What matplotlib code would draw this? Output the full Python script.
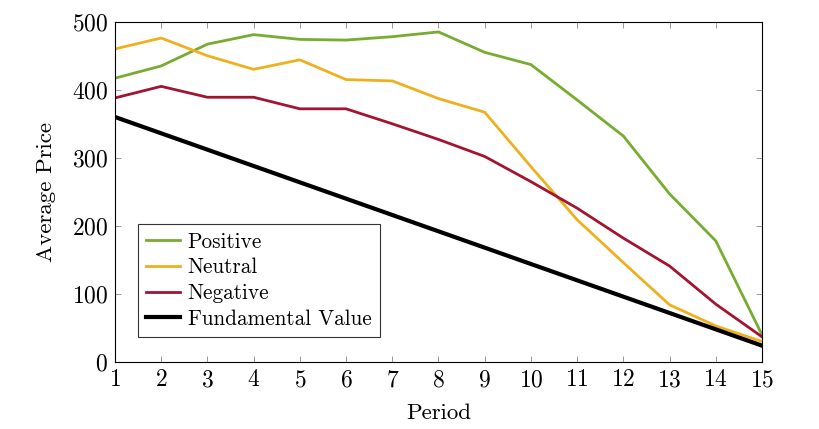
import matplotlib
matplotlib.use("Agg")
import matplotlib.pyplot as plt

periods = list(range(1, 16))
positive = [417, 435, 467, 481, 474, 473, 478, 485, 455, 437, 385, 332, 247, 178, 40]
neutral = [460, 476, 450, 430, 444, 415, 413, 387, 367, 287, 209, 146, 84, 53, 30]
negative = [388, 405, 389, 389, 372, 372, 350, 327, 302, 265, 226, 182, 141, 85, 37]
fundamental = [360, 336, 312, 288, 264, 240, 216, 192, 168, 144, 120, 96, 72, 48, 24]

plt.rcParams['font.family'] = ['cmr10', 'DejaVu Serif']
plt.rcParams['axes.formatter.use_mathtext'] = True

fig = plt.figure(figsize=(8.19, 4.29), dpi=100)
ax = fig.add_axes([0.1404, 0.1562, 0.79, 0.7932])

ax.plot(periods, positive, color='#77AC30', lw=2.0, label='Positive')
ax.plot(periods, neutral, color='#EDB120', lw=2.0, label='Neutral')
ax.plot(periods, negative, color='#A2142F', lw=2.0, label='Negative')
ax.plot(periods, fundamental, color='black', lw=3.0, label='Fundamental Value')

ax.set_xlim(1, 15)
ax.set_ylim(0, 500)
ax.set_xticks(periods)
ax.set_yticks([0, 100, 200, 300, 400, 500])
ax.tick_params(direction='in', top=True, right=True, length=4.5, width=0.6,
               color='#888888', labelsize=17, pad=5)
for s in ax.spines.values():
    s.set_linewidth(0.8)
ax.set_xlabel('Period', fontsize=16.5, labelpad=9)
ax.set_ylabel('Average Price', fontsize=16.5, labelpad=11)

leg = ax.legend(loc='lower left', bbox_to_anchor=(0.035, 0.073), fontsize=15.3,
                frameon=True, fancybox=False, edgecolor='black', handlelength=1.6,
                borderpad=0.4, labelspacing=0.29, handletextpad=0.35, borderaxespad=0)
leg.get_frame().set_linewidth(0.8)

fig.savefig('out.png', dpi=100)
